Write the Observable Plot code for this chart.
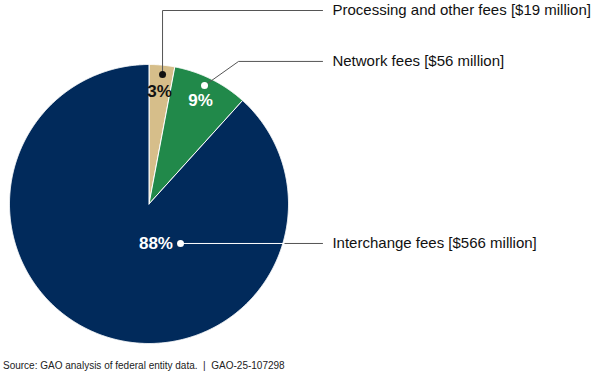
<!DOCTYPE html>
<html>
<head>
<meta charset="utf-8">
<script src="https://cdn.jsdelivr.net/npm/d3@7"></script>
<script src="https://cdn.jsdelivr.net/npm/@observablehq/plot@0.6"></script>
<style>
  html, body { margin: 0; padding: 0; background: #fff; }
  #source { font-family: "Liberation Sans", Arial, sans-serif; font-size: 10px; color: #222; padding-left: 3px; line-height: 20px; white-space: pre; }
</style>
</head>
<body>
<div id="chart"></div>
<div id="source">Source: GAO analysis of federal entity data.  |  GAO-25-107298</div>
<script>
// Data (millions of dollars)
const categories = ["Processing and other fees", "Network fees", "Interchange fees"];
const values = [19, 56, 566];
const pctLabels = ["3%", "9%", "88%"];
const sliceColors = ["#D6BE8A", "#21894A", "#012A5B"];
const labelNames = ["Processing and other fees [$19 million]", "Network fees [$56 million]", "Interchange fees [$566 million]"];

// Layout (unit circle coordinates, y up)
const labelX = 1.315, lineEndX = 1.244;
const layout = [
  { pct: [0.075, 0.806], pctAnchor: "middle", pctFill: "#111", dot: [0.097, 0.928], dotFill: "#111", leader: [[0.097, 0.928], [0.097, 1.387], [lineEndX, 1.387]], labelY: 1.387 },
  { pct: [0.369, 0.742], pctAnchor: "middle", pctFill: "#fff", dot: [0.398, 0.849], dotFill: "#fff", leader: [[0.398, 0.849], [0.642, 1.022], [lineEndX, 1.022]], labelY: 1.022 },
  { pct: [0.172, -0.283], pctAnchor: "end", pctFill: "#fff", dot: [0.226, -0.283], dotFill: "#fff", leader: null, labelY: -0.283 }
];
layout.forEach((l, i) => { l.i = i; });

const pie = d3.pie().sort(null).value(d => d)(values);
const slicePts = [];
pie.forEach((p, i) => {
  const n = Math.max(2, Math.ceil((p.endAngle - p.startAngle) / 0.005));
  slicePts.push({ cat: categories[i], x: 0, y: 0 });
  for (let k = 0; k <= n; k++) {
    const a = p.startAngle + (p.endAngle - p.startAngle) * k / n;
    slicePts.push({ cat: categories[i], x: Math.sin(a), y: Math.cos(a) });
  }
  slicePts.push({ cat: categories[i], x: 0, y: 0 });
});

const leaders = [];
layout.forEach((l, i) => {
  if (l.leader) l.leader.forEach(([x, y]) => leaders.push({ id: i, x, y }));
});
// Interchange leader: white inside pie, gray outside
const iy = layout[2].labelY;
const edgeX = Math.sqrt(1 - iy * iy);
const whiteSeg = [{ x: layout[2].dot[0], y: iy }, { x: edgeX, y: iy }];
const graySeg = [{ x: edgeX + 0.015, y: iy }, { x: lineEndX, y: iy }];

const font = "Liberation Sans, Arial, sans-serif";
const pctText = anchor => Plot.text(layout.filter(d => d.pctAnchor === anchor), {
  x: d => d.pct[0], y: d => d.pct[1], text: d => pctLabels[d.i],
  textAnchor: anchor, fill: d => d.pctFill, fontSize: 17, fontWeight: "bold"
});
const chart = Plot.plot({
  width: 600,
  height: 356,
  margin: 0,
  x: { domain: [-1, 1], range: [9, 288], axis: null },
  y: { domain: [-1, 1], range: [343, 64], axis: null },
  color: { domain: categories, range: sliceColors },
  style: { fontFamily: font, background: "#fff" },
  marks: [
    Plot.line(slicePts, { x: "x", y: "y", z: "cat", fill: "cat", stroke: "#fff", strokeWidth: 1, curve: "linear" }),
    Plot.line(leaders, { x: "x", y: "y", z: "id", stroke: "#555", strokeWidth: 1 }),
    Plot.line(whiteSeg, { x: "x", y: "y", stroke: "#fff", strokeWidth: 1 }),
    Plot.line(graySeg, { x: "x", y: "y", stroke: "#555", strokeWidth: 1 }),
    Plot.dot(layout, { x: d => d.dot[0], y: d => d.dot[1], r: 3.5, fill: d => d.dotFill, stroke: null }),
    pctText("middle"),
    pctText("end"),
    Plot.text(layout, { x: labelX, y: d => d.labelY, text: d => labelNames[d.i], textAnchor: "start", fill: "#111", fontSize: 15 })
  ]
});
document.getElementById("chart").appendChild(chart);
</script>
</body>
</html>
